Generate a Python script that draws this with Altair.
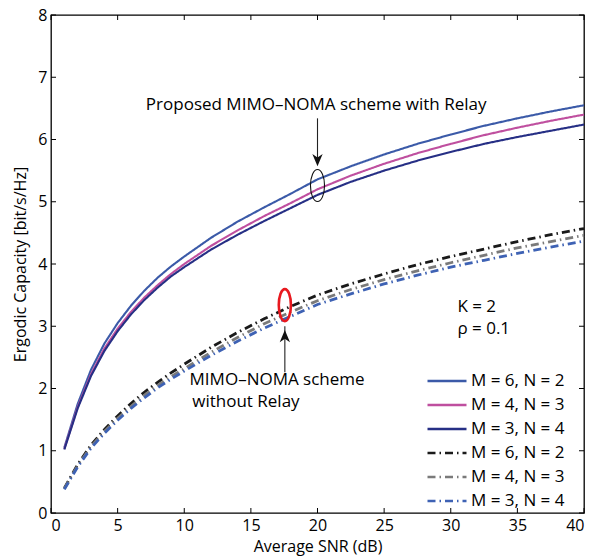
import altair as alt
import pandas as pd

# Average SNR grid (dB)
snr = [1, 2, 3, 4, 5, 6, 7, 8, 9, 10, 12, 14, 16, 18, 20, 22.5, 25, 27.5, 30, 32.5, 35, 37.5, 40]

# Proposed MIMO-NOMA scheme with relay
relay_m6n2 = [1.05, 1.75, 2.30, 2.72, 3.05, 3.33, 3.57, 3.78, 3.96, 4.12, 4.42, 4.68, 4.91, 5.13, 5.36,
              5.57, 5.76, 5.93, 6.08, 6.22, 6.34, 6.45, 6.55]
relay_m4n3 = [1.03, 1.70, 2.23, 2.64, 2.96, 3.23, 3.46, 3.66, 3.84, 4.00, 4.29, 4.54, 4.77, 4.98, 5.20,
              5.42, 5.61, 5.78, 5.93, 6.07, 6.19, 6.30, 6.40]
relay_m3n4 = [1.02, 1.68, 2.20, 2.60, 2.92, 3.19, 3.42, 3.62, 3.80, 3.95, 4.23, 4.47, 4.69, 4.90, 5.11,
              5.32, 5.50, 5.66, 5.80, 5.93, 6.04, 6.14, 6.24]

# MIMO-NOMA scheme without relay
norelay_m6n2 = [0.40, 0.78, 1.09, 1.34, 1.56, 1.76, 1.94, 2.10, 2.25, 2.39, 2.66, 2.90, 3.12, 3.32, 3.50,
                3.68, 3.84, 3.99, 4.12, 4.24, 4.36, 4.47, 4.57]
norelay_m4n3 = [0.39, 0.76, 1.07, 1.31, 1.52, 1.71, 1.89, 2.05, 2.19, 2.32, 2.58, 2.82, 3.04, 3.23, 3.41,
                3.59, 3.75, 3.89, 4.02, 4.14, 4.26, 4.36, 4.46]
norelay_m3n4 = [0.38, 0.74, 1.04, 1.28, 1.49, 1.68, 1.85, 2.01, 2.15, 2.28, 2.53, 2.76, 2.97, 3.16, 3.35,
                3.52, 3.68, 3.82, 3.95, 4.06, 4.17, 4.27, 4.37]

series_labels = ["M = 6, N = 2", "M = 4, N = 3", "M = 3, N = 4",
                 "M = 6, N = 2", "M = 4, N = 3", "M = 3, N = 4"]
series_values = [relay_m6n2, relay_m4n3, relay_m3n4, norelay_m6n2, norelay_m4n3, norelay_m3n4]
series_colors = ["#3b5aa8", "#bf4f9f", "#262f85", "#1a1a1a", "#7a7a7a", "#3e62b4"]
series_dashes = [[1, 0], [1, 0], [1, 0], [8, 4, 1.5, 4], [8, 4, 1.5, 4], [8, 4, 1.5, 4]]

x_ticks = [0, 5, 10, 15, 20, 25, 30, 35, 40]
y_ticks = [0, 1, 2, 3, 4, 5, 6, 7, 8]

# unique legend keys: index digit + visible label
keys = [f"{i}{lab}" for i, lab in enumerate(series_labels)]
rows = []
for k, vals in zip(keys, series_values):
    for s, v in zip(snr, vals):
        rows.append({"snr": s, "cap": v, "series": k, "relay": k[0] in "012"})
df = pd.DataFrame(rows)

W, H = 533, 498
FONT = "Open Sans"

xscale = alt.Scale(domain=[0, 40], nice=False)
yscale = alt.Scale(domain=[0, 8], nice=False)

legend = alt.Legend(
    title=None, orient="none", legendX=375, legendY=358,
    symbolType="stroke", symbolSize=1521, symbolStrokeWidth=2.5, clipHeight=16,
    labelFont=FONT, labelFontSize=17, labelColor="black",
    labelExpr="substring(datum.value, 1)", rowPadding=7, labelOffset=3,
    padding=0,
)
color = alt.Color("series:N", scale=alt.Scale(domain=keys, range=series_colors), legend=legend)
dash = alt.StrokeDash("series:N", scale=alt.Scale(domain=keys, range=series_dashes), legend=legend)

x_enc = alt.X("snr:Q", scale=xscale, title="Average SNR (dB)",
              axis=alt.Axis(values=x_ticks, ticks=False, domain=False, grid=False, format="d",
                            labelPadding=4, titlePadding=5))
y_enc = alt.Y("cap:Q", scale=yscale, title="Ergodic Capacity [bit/s/Hz]",
              axis=alt.Axis(values=y_ticks, ticks=False, domain=False, grid=False, format="d",
                            labelPadding=4, titlePadding=9))

solid = alt.Chart(df).transform_filter("datum.relay").mark_line(strokeWidth=2.1).encode(
    x=x_enc, y=y_enc, color=color, strokeDash=dash, detail="series:N")
dashed = alt.Chart(df).transform_filter("!datum.relay").mark_line(strokeWidth=2.8).encode(
    x=x_enc, y=y_enc, color=color, strokeDash=dash, detail="series:N")

# inward ticks on all four sides of the box
xt = pd.DataFrame({"snr": x_ticks})
yt = pd.DataFrame({"cap": y_ticks})
tick_style = dict(color="black", strokeWidth=1)
ticks = [
    alt.Chart(xt).mark_rule(**tick_style).encode(x="snr:Q", y=alt.value(H), y2=alt.value(H - 5)),
    alt.Chart(xt).mark_rule(**tick_style).encode(x="snr:Q", y=alt.value(0), y2=alt.value(5)),
    alt.Chart(yt).mark_rule(**tick_style).encode(y="cap:Q", x=alt.value(0), x2=alt.value(5)),
    alt.Chart(yt).mark_rule(**tick_style).encode(y="cap:Q", x=alt.value(W), x2=alt.value(W - 5)),
]

# annotation: arrows, ellipses and texts
arrow_lines = pd.DataFrame({"snr": [20, 17.55], "cap": [6.34, 2.26], "cap2": [5.62, 3.0]})
arrows = alt.Chart(arrow_lines).mark_rule(color="#222222", strokeWidth=1.1).encode(
    x="snr:Q", y="cap:Q", y2="cap2:Q")

heads = pd.DataFrame({"snr": [20], "cap": [5.57]})
head_down = alt.Chart(heads).mark_point(
    shape="M 0 0 L -0.42 -1 L 0 -0.72 L 0.42 -1 Z", size=600, filled=True,
    color="#111111", opacity=1).encode(x="snr:Q", y="cap:Q")
heads_up = pd.DataFrame({"snr": [17.55], "cap": [2.94]})
head_up = alt.Chart(heads_up).mark_point(
    shape="M 0 0 L -0.42 1 L 0 0.72 L 0.42 1 Z", size=600, filled=True,
    color="#111111", opacity=1).encode(x="snr:Q", y="cap:Q")

ellipse_path = "M -0.44 0 A 0.44 1 0 1 1 0.44 0 A 0.44 1 0 1 1 -0.44 0 Z"
ell_black = alt.Chart(pd.DataFrame({"snr": [20], "cap": [5.26]})).mark_point(
    shape=ellipse_path, size=1024, filled=False, color="#111111", strokeWidth=1.1,
    opacity=1).encode(x="snr:Q", y="cap:Q")
ell_red = alt.Chart(pd.DataFrame({"snr": [17.55], "cap": [3.34]})).mark_point(
    shape="M -0.38 0 A 0.38 1 0 1 1 0.38 0 A 0.38 1 0 1 1 -0.38 0 Z", size=1024,
    filled=False, color="#e8191f", strokeWidth=2.6, opacity=1).encode(x="snr:Q", y="cap:Q")

center_text = pd.DataFrame({"snr": [19.9], "cap": [6.55], "txt": ["Proposed MIMO–NOMA scheme with Relay"]})
t1 = alt.Chart(center_text).mark_text(font=FONT, fontSize=17, align="center", baseline="middle",
                                      color="black").encode(x="snr:Q", y="cap:Q", text="txt:N")
left_text = pd.DataFrame({
    "snr": [10.4, 10.6, 30.5, 30.5],
    "cap": [2.13, 1.78, 3.31, 2.95],
    "txt": ["MIMO–NOMA scheme", "without Relay", "K = 2", "ρ = 0.1"],
})
t2 = alt.Chart(left_text).mark_text(font=FONT, fontSize=17, align="left", baseline="middle",
                                    color="black").encode(x="snr:Q", y="cap:Q", text="txt:N")

chart = alt.layer(solid, dashed, *ticks, arrows, head_down, head_up, ell_black, ell_red, t1, t2).properties(
    width=W, height=H, autosize="none", background="white",
    padding={"left": 51, "top": 15, "right": 8, "bottom": 46},
).configure_view(stroke="black", strokeWidth=1.3).configure_axis(
    labelFont=FONT, labelFontSize=16, labelColor="black",
    titleFont=FONT, titleFontSize=16, titleColor="black", titleFontWeight="normal",
)

chart.save("out.html", embed_options={"renderer": "svg", "actions": False})
